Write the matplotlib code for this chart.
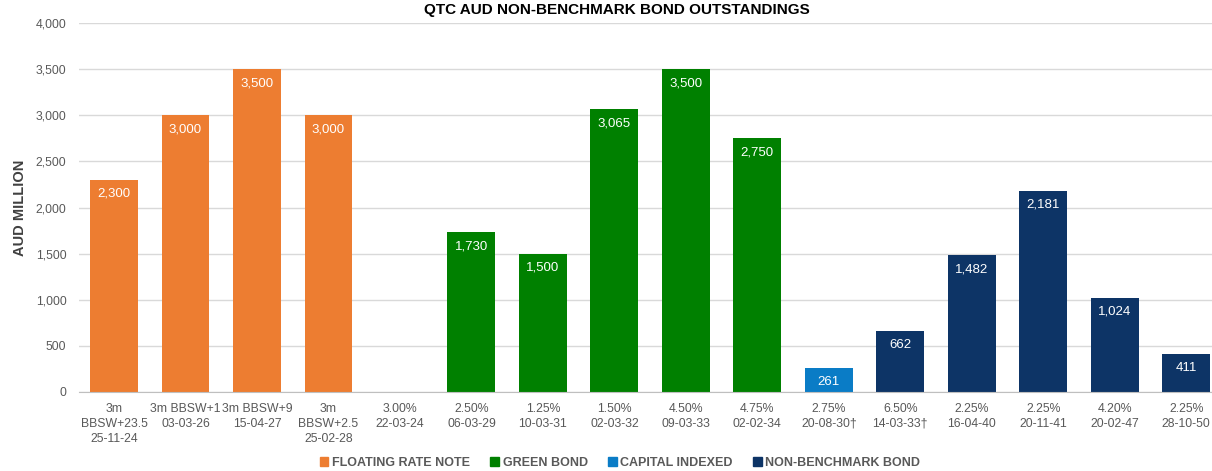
import numpy as np
import matplotlib.pyplot as plt
from matplotlib.patches import Patch

plt.rcParams['font.family'] = ['Liberation Sans Narrow', 'Liberation Sans', 'DejaVu Sans']

# dane
labels = ['3m\nBBSW+23.5\n25-11-24', '3m BBSW+1\n03-03-26', '3m BBSW+9\n15-04-27',
          '3m\nBBSW+2.5\n25-02-28', '3.00%\n22-03-24', '2.50%\n06-03-29', '1.25%\n10-03-31',
          '1.50%\n02-03-32', '4.50%\n09-03-33', '4.75%\n02-02-34', '2.75%\n20-08-30\u2020',
          '6.50%\n14-03-33\u2020', '2.25%\n16-04-40', '2.25%\n20-11-41', '4.20%\n20-02-47',
          '2.25%\n28-10-50']
values = [2300, 3000, 3500, 3000, 0, 1730, 1500, 3065, 3500, 2750, 261, 662, 1482, 2181, 1024, 411]
groups = ['FRN', 'FRN', 'FRN', 'FRN', 'GREEN', 'GREEN', 'GREEN', 'GREEN', 'GREEN', 'GREEN',
          'CIB', 'NBB', 'NBB', 'NBB', 'NBB', 'NBB']
group_names = {'FRN': 'FLOATING RATE NOTE', 'GREEN': 'GREEN BOND',
               'CIB': 'CAPITAL INDEXED', 'NBB': 'NON-BENCHMARK BOND'}
boje = {'FRN': '#ED7D31', 'GREEN': '#008000', 'CIB': '#0A7CC6', 'NBB': '#0D3466'}

fig = plt.figure(figsize=(12.12, 4.71), dpi=100)
ax = fig.add_axes([79/1212, 79/471, 1 - 79/1212, (392-23)/471])

x = np.arange(len(values))
ax.bar(x, values, width=0.67, color=[boje[g] for g in groups], zorder=2)

# oznake vrijednosti
for xi, v in zip(x, values):
    if v > 0:
        ax.annotate(f'{v:,}', (xi, v), xytext=(0, -10), textcoords='offset points',
                    ha='center', va='center', color='white', fontsize=9.5)

ax.set_xlim(-0.49, 15.36)
ax.set_ylim(0, 4000)
ax.set_yticks(np.arange(0, 4001, 500))
ax.set_yticklabels([f'{t:,}' for t in range(0, 4001, 500)])
ax.set_xticks(x)
ax.set_xticklabels(labels, linespacing=1.3)
ax.tick_params(axis='both', colors='#595959', labelsize=8.8, length=0)
ax.tick_params(axis='x', pad=8)
ax.tick_params(axis='y', pad=9)
ax.grid(axis='y', color='#D9D9D9', linewidth=1, zorder=0)
for s in ['top', 'right', 'left']:
    ax.spines[s].set_visible(False)
ax.spines['bottom'].set_color('#BFBFBF')
ax.spines['bottom'].set_zorder(3)
ax.set_ylabel('AUD MILLION', fontsize=10.5, fontweight='bold', color='#404040', labelpad=6)

fig.text(617/1212, 1 - 14/471, 'QTC AUD NON-BENCHMARK BOND OUTSTANDINGS', ha='center',
         va='baseline', fontsize=11, fontweight='bold', color='black')

handles = [Patch(color=boje[k], label=group_names[k]) for k in ['FRN', 'GREEN', 'CIB', 'NBB']]
leg = fig.legend(handles=handles, loc='center', bbox_to_anchor=(620/1212, 1 - 463/471),
                 ncol=4, frameon=False, fontsize=9, handlelength=0.7, handleheight=0.7,
                 handletextpad=0.3, columnspacing=1.6)
for t in leg.get_texts():
    t.set_color('#595959')
    t.set_fontweight('bold')

fig.savefig('out.png', dpi=100)
